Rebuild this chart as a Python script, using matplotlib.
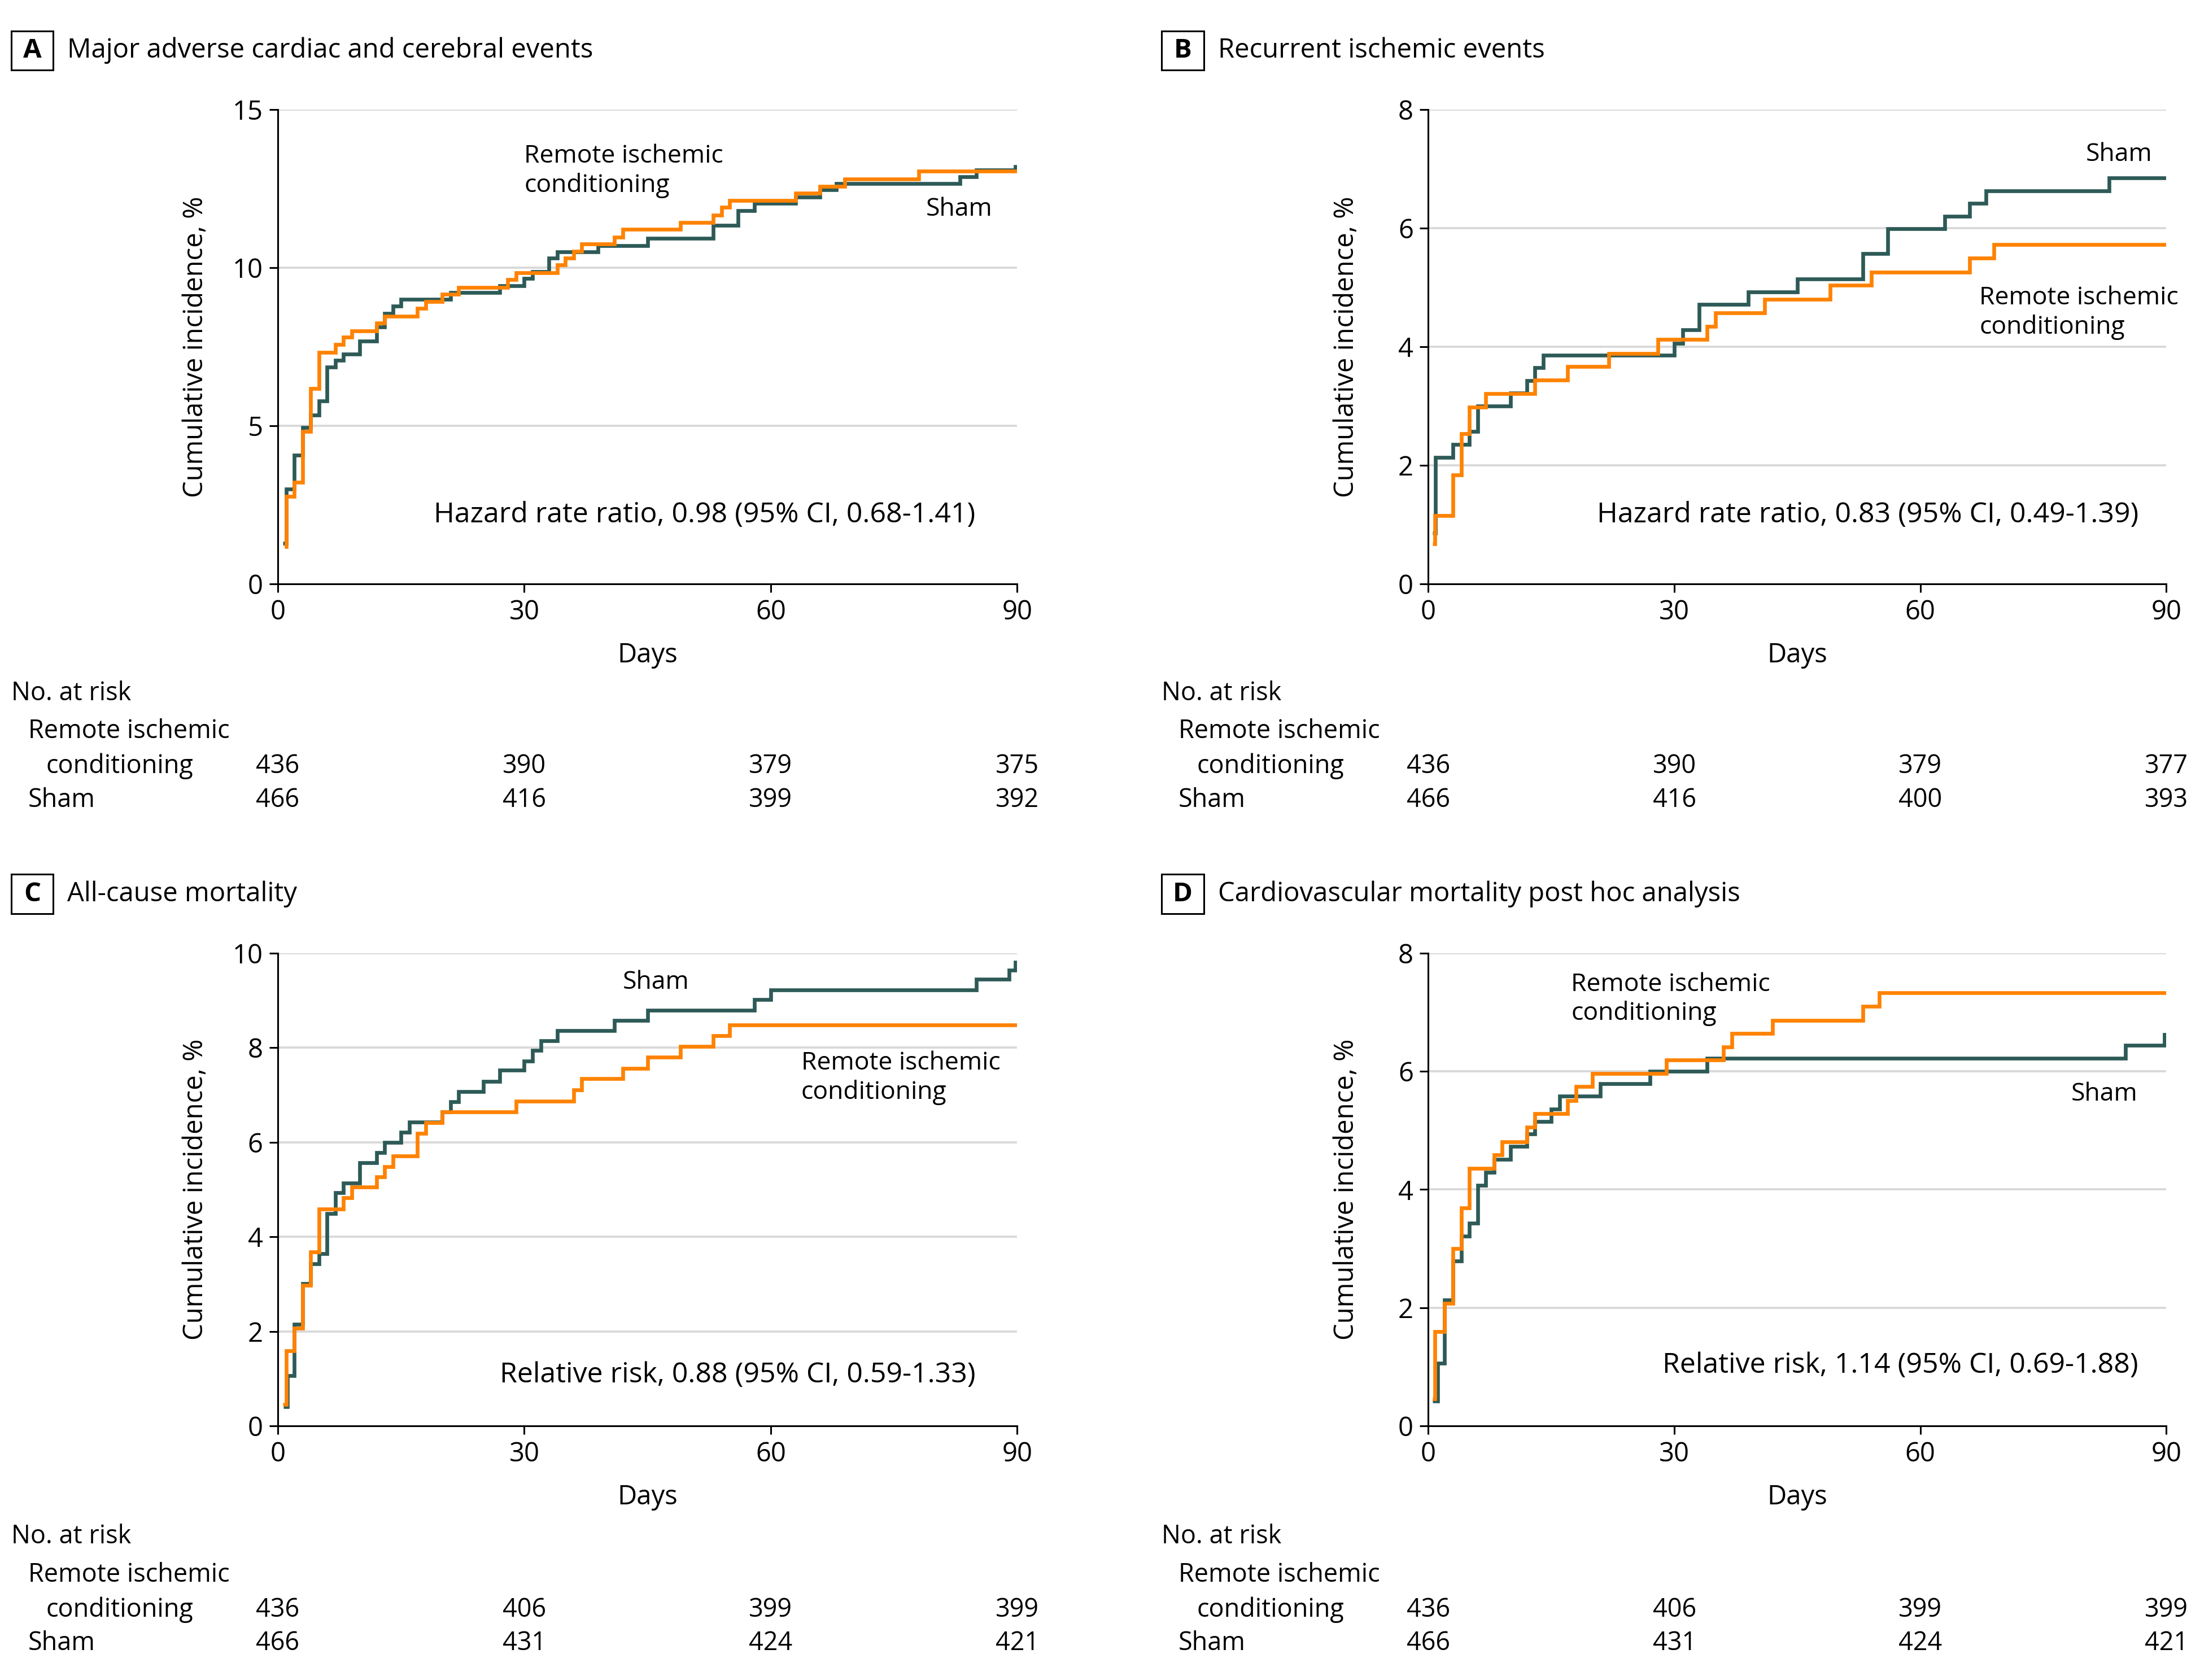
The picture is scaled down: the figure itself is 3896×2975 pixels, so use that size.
import matplotlib
matplotlib.use('Agg')
import matplotlib.pyplot as plt
from matplotlib.patches import Rectangle
from matplotlib.transforms import blended_transform_factory

plt.rcParams['font.family'] = ['Open Sans', 'DejaVu Sans']
FS_LAB = 16      # curve labels
FS_STAT = 18     # ratio text
FS_TICK = 17
FS_AXIS = 17
FS_TITLE = 17
FS_TABLE = 16.2

SHAM_COLOR = '#2d5a57'
RIC_COLOR = '#ff8200'

# ---- data (day of step, cumulative incidence %) ----
a_sham_days = [0.6, 1, 2, 3, 4, 5, 6, 7, 8, 10, 12, 13, 14, 15, 21, 27, 30, 31, 33, 34,
               39, 45, 53, 56, 58, 63, 66, 68, 83, 85, 89.8]
a_sham_pct = [1.28, 3.0, 4.07, 4.94, 5.34, 5.79, 6.86, 7.07, 7.27, 7.67, 8.13, 8.56, 8.79, 9.0,
              9.22, 9.43, 9.65, 9.87, 10.3, 10.49, 10.69, 10.92, 11.34, 11.8, 12.03, 12.23,
              12.46, 12.65, 12.87, 13.09, 13.2]
a_ric_days = [0.8, 1, 2, 3, 4, 5, 7, 8, 9, 12, 13, 17, 18, 20, 22, 28, 29, 34, 35, 36, 37,
              41, 42, 49, 53, 54, 55, 63, 66, 69, 78]
a_ric_pct = [1.18, 2.76, 3.21, 4.82, 6.18, 7.32, 7.57, 7.8, 8.0, 8.24, 8.46, 8.71, 8.93, 9.15,
             9.37, 9.63, 9.83, 10.08, 10.3, 10.51, 10.74, 10.96, 11.21, 11.43, 11.66, 11.9,
             12.13, 12.35, 12.57, 12.8, 13.05]

b_sham_days = [0.5, 0.85, 3, 5, 6, 10, 12, 13, 14, 30, 31, 33, 39, 45, 53, 56, 63, 66, 68, 83]
b_sham_pct = [0.86, 2.13, 2.35, 2.57, 3.0, 3.22, 3.43, 3.65, 3.86, 4.06, 4.28, 4.71, 4.92,
              5.14, 5.57, 5.99, 6.2, 6.42, 6.63, 6.85]
b_ric_days = [0.5, 0.8, 3, 4, 5, 7, 13, 17, 22, 28, 34, 35, 41, 49, 54, 66, 69]
b_ric_pct = [0.68, 1.15, 1.84, 2.53, 2.98, 3.21, 3.44, 3.67, 3.88, 4.12, 4.34, 4.57, 4.8,
             5.04, 5.26, 5.49, 5.72]

c_sham_days = [0.7, 1.2, 2, 3, 4, 5, 6, 7, 8, 10, 12, 13, 15, 16, 20, 21, 22, 25, 27, 30,
               31, 32, 34, 41, 45, 58, 60, 85, 89, 89.8]
c_sham_pct = [0.41, 1.06, 2.15, 3.01, 3.43, 3.64, 4.49, 4.93, 5.13, 5.56, 5.78, 5.99, 6.21,
              6.43, 6.64, 6.86, 7.07, 7.29, 7.52, 7.72, 7.94, 8.15, 8.36, 8.58, 8.79, 9.01,
              9.22, 9.44, 9.64, 9.8]
c_ric_days = [0.65, 1, 2, 3, 4, 5, 8, 9, 12, 13, 14, 17, 18, 20, 29, 36, 37, 42, 45, 49, 53, 55]
c_ric_pct = [0.46, 1.59, 2.07, 2.98, 3.68, 4.59, 4.82, 5.05, 5.27, 5.48, 5.71, 6.19, 6.41,
             6.64, 6.87, 7.11, 7.34, 7.56, 7.8, 8.02, 8.25, 8.48]

d_sham_days = [0.5, 1.15, 2, 3, 4, 5, 6, 7, 8, 10, 12, 13, 15, 16, 21, 27, 34, 85, 89.8]
d_sham_pct = [0.42, 1.06, 2.13, 2.79, 3.21, 3.43, 4.07, 4.29, 4.51, 4.73, 4.94, 5.15, 5.36,
              5.58, 5.79, 6.0, 6.22, 6.44, 6.62]
d_ric_days = [0.5, 0.8, 2, 3, 4, 5, 8, 9, 12, 13, 17, 18, 20, 29, 36, 37, 42, 53, 55]
d_ric_pct = [0.46, 1.6, 2.07, 3.0, 3.69, 4.36, 4.59, 4.81, 5.05, 5.28, 5.5, 5.74, 5.96, 6.19,
             6.41, 6.64, 6.86, 7.1, 7.33]

x_ticks = [0, 30, 60, 90]
a_yticks = [0, 5, 10, 15]
b_yticks = [0, 2, 4, 6, 8]
c_yticks = [0, 2, 4, 6, 8, 10]
d_yticks = [0, 2, 4, 6, 8]

a_risk_ric = [436, 390, 379, 375]
a_risk_sham = [466, 416, 399, 392]
b_risk_ric = [436, 390, 379, 377]
b_risk_sham = [466, 416, 400, 393]
c_risk_ric = [436, 406, 399, 399]
c_risk_sham = [466, 431, 424, 421]
d_risk_ric = [436, 406, 399, 399]
d_risk_sham = [466, 431, 424, 421]

titles = ['Major adverse cardiac and cerebral events', 'Recurrent ischemic events',
          'All-cause mortality', 'Cardiovascular mortality post hoc analysis']
letters = ['A', 'B', 'C', 'D']
stats = ['Hazard rate ratio, 0.98 (95% CI, 0.68-1.41)',
         'Hazard rate ratio, 0.83 (95% CI, 0.49-1.39)',
         'Relative risk, 0.88 (95% CI, 0.59-1.33)',
         'Relative risk, 1.14 (95% CI, 0.69-1.88)']

W, H = 1568.0, 1197.0  # layout measured on the reduced picture
fig = plt.figure(figsize=(19.48, 14.875), dpi=200)


def fx(x):
    return x / W


def fy(y):
    return 1 - y / H


def step_line(ax, days, pct, color):
    xs = list(days) + [90]
    ys = list(pct) + [pct[-1]]
    ax.step(xs, ys, where='post', color=color, lw=2.4, solid_capstyle='butt',
            solid_joinstyle='miter', zorder=3)


panels = [
    dict(x0=198, x1=725, y0=78, y1=416, ymax=15, yticks=a_yticks,
         sham=(a_sham_days, a_sham_pct), ric=(a_ric_days, a_ric_pct),
         risk=(a_risk_ric, a_risk_sham),
         ric_lab=(30.0, 13.05), sham_lab=(78.9, 11.85), stat_xy=(84.9, 2.17)),
    dict(x0=1018, x1=1544, y0=78, y1=416, ymax=8, yticks=b_yticks,
         sham=(b_sham_days, b_sham_pct), ric=(b_ric_days, b_ric_pct),
         risk=(b_risk_ric, b_risk_sham),
         ric_lab=(67.2, 4.57), sham_lab=(80.2, 7.24), stat_xy=(86.6, 1.16)),
    dict(x0=198, x1=725, y0=679, y1=1016, ymax=10, yticks=c_yticks,
         sham=(c_sham_days, c_sham_pct), ric=(c_ric_days, c_ric_pct),
         risk=(c_risk_ric, c_risk_sham),
         ric_lab=(63.7, 7.36), sham_lab=(42.0, 9.38), stat_xy=(84.9, 1.07)),
    dict(x0=1018, x1=1544, y0=679, y1=1016, ymax=8, yticks=d_yticks,
         sham=(d_sham_days, d_sham_pct), ric=(d_ric_days, d_ric_pct),
         risk=(d_risk_ric, d_risk_sham),
         ric_lab=(17.4, 7.22), sham_lab=(78.4, 5.61), stat_xy=(86.6, 1.02)),
]

for i, p in enumerate(panels):
    ax = fig.add_axes([fx(p['x0']), fy(p['y1']), (p['x1'] - p['x0']) / W,
                       (p['y1'] - p['y0']) / H])
    ax.set_xlim(0, 90)
    ax.set_ylim(0, p['ymax'])
    ax.set_xticks(x_ticks)
    ax.set_yticks(p['yticks'])
    for t in p['yticks'][1:]:
        ax.axhline(t, color='#d9d9d9', lw=1.4, zorder=1)
    for s in ['top', 'right']:
        ax.spines[s].set_visible(False)
    for s in ['left', 'bottom']:
        ax.spines[s].set_linewidth(1.1)
        ax.spines[s].set_zorder(4)
    ax.tick_params(axis='both', length=5.5, width=1.1, labelsize=FS_TICK, pad=4)
    ax.set_xlabel('Days', fontsize=FS_AXIS)
    ax.xaxis.set_label_coords(0.5, -0.122)
    ax.set_ylabel('Cumulative incidence, %', fontsize=FS_AXIS)
    ax.yaxis.set_label_coords(-0.093, 0.5)

    step_line(ax, *p['sham'], SHAM_COLOR)
    step_line(ax, *p['ric'], RIC_COLOR)

    rx, ry = p['ric_lab']
    ax.text(rx, ry, 'Remote ischemic\nconditioning', ha='left', va='center', fontsize=FS_LAB,
            linespacing=1.2, zorder=5)
    sx, sy = p['sham_lab']
    ax.text(sx, sy, 'Sham', ha='left', va='center', fontsize=FS_LAB, zorder=5)
    ax.text(p['stat_xy'][0], p['stat_xy'][1], stats[i], ha='right', va='center',
            fontsize=FS_STAT, zorder=5)

    # panel heading
    dy = p['y0'] - 78
    lx = 8 if p['x0'] < 500 else 828
    fig.patches.append(Rectangle((fx(lx), fy(50 + dy)), 30 / W, 28 / H, transform=fig.transFigure,
                                 fill=False, edgecolor='black', lw=1.1))
    fig.text(fx(lx + 15), fy(36 + dy), letters[i], ha='center', va='center', fontsize=FS_TITLE,
             fontweight='bold')
    fig.text(fx(lx + 40), fy(36 + dy), titles[i], ha='left', va='center', fontsize=FS_TITLE)

    # number at risk table
    fig.text(fx(lx), fy(494 + dy), 'No. at risk', ha='left', va='center', fontsize=FS_TABLE)
    fig.text(fx(lx + 12), fy(521 + dy), 'Remote ischemic', ha='left', va='center',
             fontsize=FS_TABLE)
    fig.text(fx(lx + 25), fy(546 + dy), 'conditioning', ha='left', va='center', fontsize=FS_TABLE)
    fig.text(fx(lx + 12), fy(570 + dy), 'Sham', ha='left', va='center', fontsize=FS_TABLE)
    tr = blended_transform_factory(ax.transData, fig.transFigure)
    ric_n, sham_n = p['risk']
    for xt, n1, n2 in zip(x_ticks, ric_n, sham_n):
        fig.text(xt, fy(546 + dy), str(n1), ha='center', va='center', fontsize=FS_TABLE,
                 transform=tr)
        fig.text(xt, fy(570 + dy), str(n2), ha='center', va='center', fontsize=FS_TABLE,
                 transform=tr)

fig.savefig('out.png', dpi=200, facecolor='white')
